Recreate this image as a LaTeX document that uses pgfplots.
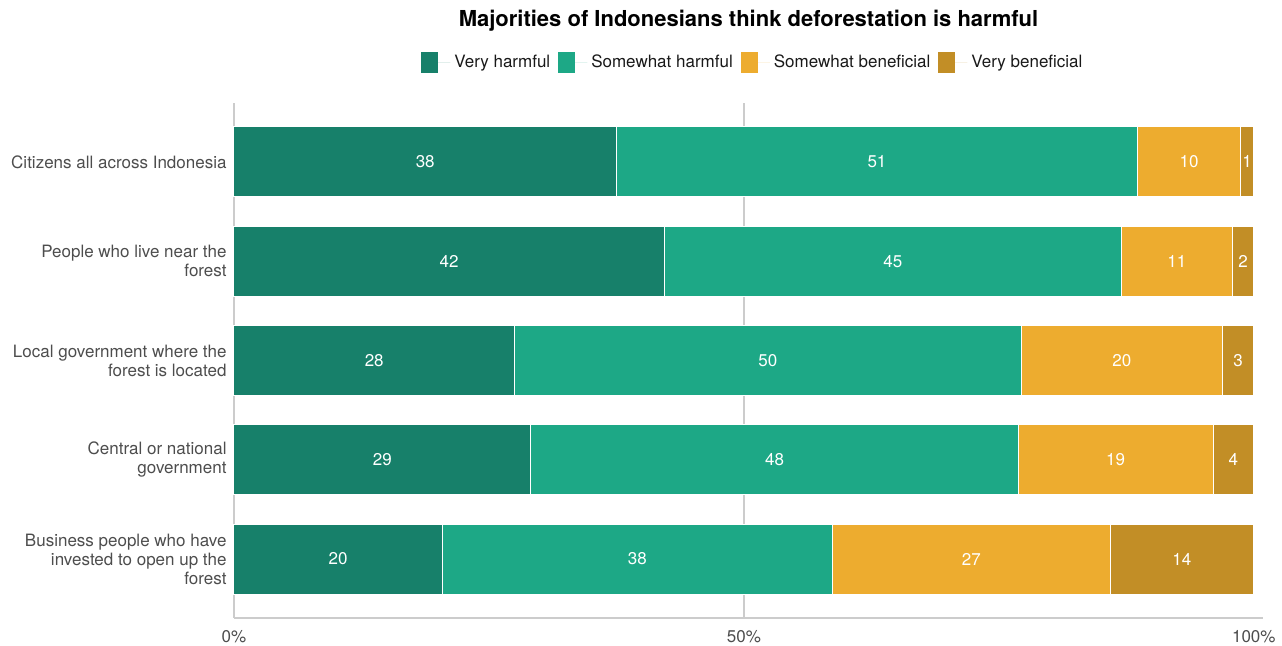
\documentclass[border=0pt]{standalone}
\usepackage{fontspec}
\setmainfont{TeX Gyre Heros}
\usepackage{pgfplots}
\usepackage{pgfplotstable}
\pgfplotsset{compat=1.18}
\definecolor{vh}{HTML}{17806A}
\definecolor{sh}{HTML}{1DA886}
\definecolor{sb}{HTML}{EDAC2F}
\definecolor{vb}{HTML}{C28E26}
\definecolor{gridgray}{HTML}{CCCCCC}
\definecolor{labgray}{HTML}{4D4D4D}
\pgfplotsset{my legend/.style={legend image code/.code={\fill[##1,draw=none] (0pt,-5.25pt) rectangle (8.5pt,5.25pt); \path[draw=none] (0pt,0pt) -- (14.5pt,0pt);}}}

\pgfplotstableread{
y x
4 37.5
3 42.2
2 27.5
1 29.1
0 20.4
}\vhdata
\pgfplotstableread{
y x
4 51.1
3 44.8
2 49.7
1 47.8
0 38.3
}\shdata
\pgfplotstableread{
y x
4 10.1
3 10.9
2 19.7
1 19.1
0 27.2
}\sbdata
\pgfplotstableread{
y x
4 1.3
3 2.1
2 3.1
1 4.0
0 14.1
}\vbdata
\pgfplotstableread{
x y lab
18.75 4 38
63.05 4 51
93.65 4 10
99.35 4 1
21.1 3 42
64.6 3 45
92.45 3 11
98.95 3 2
13.75 2 28
52.35 2 50
87.05 2 20
98.45 2 3
14.55 1 29
53.0 1 48
86.45 1 19
98.0 1 4
10.2 0 20
39.55 0 38
72.3 0 27
92.95 0 14
}\labdata

\begin{document}
\begin{tikzpicture}
\useasboundingbox (-117pt,-14pt) rectangle (524pt,309pt);
\begin{axis}[
  at={(0,0)}, anchor=south west,
  scale only axis, width=514.5pt, height=257.5pt,
  clip=false,
  xbar stacked, bar width=35pt,
  xmin=0, xmax=100.9, ymin=-0.594, ymax=4.594,
  ytick={0,1,2,3,4},
  yticklabels={Business people who have\\invested to open up the\\forest, Central or national\\government, Local government where the\\forest is located, People who live near the\\forest, Citizens all across Indonesia},
  xtick={0,50,100}, xticklabels={0\%,50\%,100\%},
  major tick length=0pt,
  axis lines=left,
  axis line style={-, draw=gridgray, line width=1pt},
  extra x ticks={50}, extra x tick labels={},
  extra x tick style={grid=major, major grid style={draw=gridgray, line width=1pt}},
  yticklabel style={align=right, font=\fontsize{8.5}{9.5}\selectfont, text=labgray, xshift=-0.2pt},
  xticklabel style={font=\fontsize{8.5}{10}\selectfont, text=labgray, yshift=-2.7pt},
  title={Majorities of Indonesians think deforestation is harmful},
  title style={at={(0.5,1)}, anchor=center, yshift=35pt, font=\fontsize{11}{13}\selectfont\bfseries},
  legend columns=4,
  legend style={at={(0.5053,1.0777)}, anchor=center, draw=none, fill=none,
    font=\fontsize{8.5}{10}\selectfont, text=black!90,
    /tikz/every even column/.append style={column sep=2pt}},
]
\addplot[fill=vh, draw=white, line width=0.5pt, my legend] table[x=x,y=y]{\vhdata};
\addplot[fill=sh, draw=white, line width=0.5pt, my legend] table[x=x,y=y]{\shdata};
\addplot[fill=sb, draw=white, line width=0.5pt, my legend] table[x=x,y=y]{\sbdata};
\addplot[fill=vb, draw=white, line width=0.5pt, my legend] table[x=x,y=y]{\vbdata};
\legend{Very harmful, Somewhat harmful, Somewhat beneficial, Very beneficial}
\end{axis}
\begin{axis}[
  at={(0,0)}, anchor=south west,
  scale only axis, width=514.5pt, height=257.5pt,
  clip=false, hide axis,
  xmin=0, xmax=100.9, ymin=-0.594, ymax=4.594,
]
\addplot[draw=none, mark=none, nodes near coords, point meta=explicit symbolic,
  every node near coord/.append style={anchor=center, text=white, font=\fontsize{8.5}{10}\selectfont}]
  table[x=x,y=y,meta=lab]{\labdata};
\end{axis}
\end{tikzpicture}
\end{document}
